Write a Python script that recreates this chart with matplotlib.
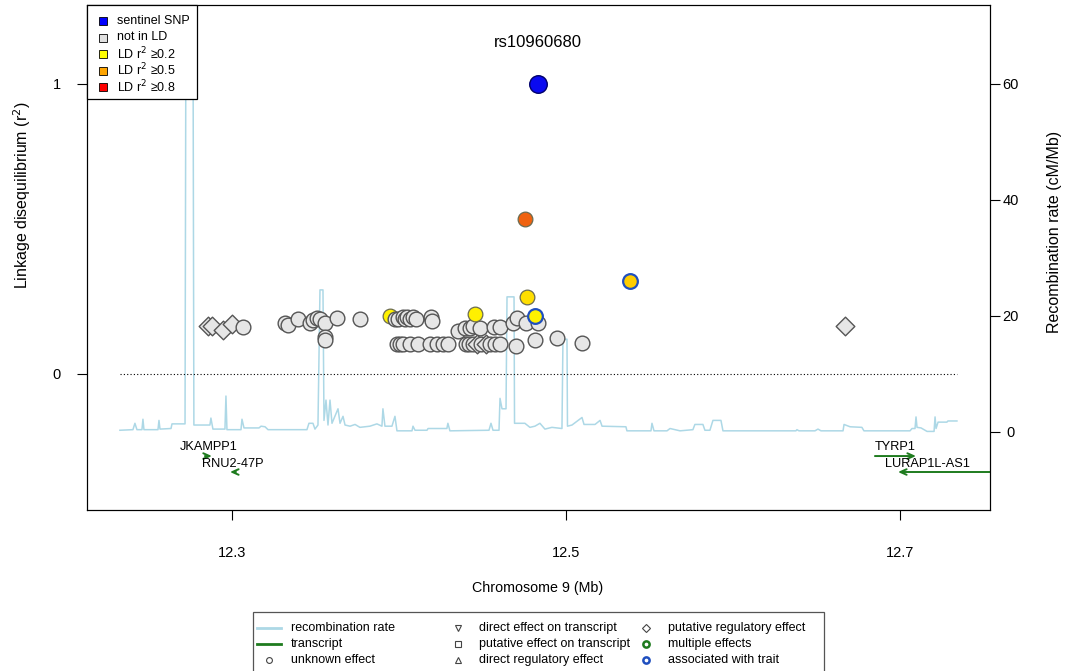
import matplotlib
matplotlib.use('Agg')
import matplotlib.pyplot as plt
from matplotlib.lines import Line2D
from matplotlib.patches import Rectangle
from matplotlib.colors import LinearSegmentedColormap

plt.rcParams['font.family'] = ['Liberation Sans', 'DejaVu Sans']

# ---------------- data ----------------
sentinel_id = 'rs10960680'
chrom = 9
region_start, region_end = 12.2329, 12.7341

sentinel_pos = 12.4832
sentinel_ld = 1.0

snp_pos = [
    12.2856, 12.2880, 12.2946, 12.3000, 12.3066,
    12.3317, 12.3335, 12.3395, 12.3467, 12.3485, 12.3509, 12.3527,
    12.3557, 12.3557, 12.3557, 12.3629, 12.3766,
    12.3946,
    12.3976, 12.3994, 12.4024, 12.4036, 12.4048, 12.4066, 12.4084, 12.4102,
    12.4192, 12.4198,
    12.3988, 12.4006, 12.4024, 12.4066, 12.4114, 12.4186, 12.4228, 12.4263,
    12.4293, 12.4401, 12.4419, 12.4443, 12.4467, 12.4491, 12.4521, 12.4545,
    12.4575, 12.4605, 12.4701, 12.4814, 12.4946, 12.5096,
    12.4353, 12.4395, 12.4425, 12.4443, 12.4485, 12.4569, 12.4605,
    12.4683, 12.4707, 12.4760, 12.4832,
    12.4455, 12.4766, 12.4814, 12.5383, 12.4754,
    12.6671,
]
snp_ld = [
    0.166, 0.166, 0.152, 0.172, 0.162,
    0.176, 0.170, 0.190, 0.176, 0.186, 0.193, 0.190,
    0.176, 0.128, 0.118, 0.193, 0.190,
    0.200,
    0.190, 0.188, 0.195, 0.190, 0.195, 0.190, 0.195, 0.190,
    0.195, 0.183,
    0.105, 0.105, 0.105, 0.105, 0.105, 0.105, 0.105, 0.105,
    0.105, 0.105, 0.105, 0.105, 0.105, 0.105, 0.105, 0.105,
    0.105, 0.105, 0.098, 0.117, 0.124, 0.107,
    0.148, 0.159, 0.160, 0.165, 0.159, 0.162, 0.162,
    0.176, 0.193, 0.176, 0.176,
    0.207, 0.266, 0.200, 0.321, 0.534,
    0.166,
]
snp_effect = (['regulatory'] * 4 + ['unknown'] * 36
              + ['regulatory', 'unknown', 'regulatory'] + ['unknown'] * 23
              + ['regulatory'])
snp_trait = [False] * len(snp_pos)
snp_trait[63] = True   # 12.4814, r2 0.200
snp_trait[64] = True   # 12.5383, r2 0.321

rec_pos = [
    12.2329, 12.2407, 12.2419, 12.2431, 12.2461, 12.2467, 12.2473, 12.2557,
    12.2563, 12.2569, 12.2635, 12.2641, 12.2719, 12.2725, 12.2766, 12.2772,
    12.2868, 12.2874, 12.2886, 12.2958, 12.2964, 12.2970, 12.3054, 12.3060,
    12.3072, 12.3162, 12.3174, 12.3198, 12.3216, 12.3449, 12.3461, 12.3485,
    12.3497, 12.3515, 12.3527, 12.3545, 12.3551, 12.3563, 12.3575, 12.3587,
    12.3599, 12.3635, 12.3647, 12.3665, 12.3677, 12.3707, 12.3737, 12.3766,
    12.3826, 12.3868, 12.3898, 12.3904, 12.3916, 12.3958, 12.3976, 12.3988,
    12.4078, 12.4084, 12.4096, 12.4168, 12.4174, 12.4186, 12.4287, 12.4293,
    12.4305, 12.4539, 12.4551, 12.4563, 12.4599, 12.4605, 12.4617, 12.4641,
    12.4647, 12.4689, 12.4692, 12.4754, 12.4784, 12.4814, 12.4844, 12.4874,
    12.4916, 12.4976, 12.4982, 12.5006, 12.5009, 12.5036, 12.5096, 12.5108,
    12.5174, 12.5204, 12.5216, 12.5359, 12.5365, 12.5509, 12.5515, 12.5527,
    12.5605, 12.5623, 12.5683, 12.5760, 12.5772, 12.5820, 12.5832, 12.5862,
    12.5880, 12.5928, 12.5940, 12.6377, 12.6383, 12.6395, 12.6491, 12.6509,
    12.6527, 12.6659, 12.6665, 12.6701, 12.6772, 12.6784, 12.7060, 12.7072,
    12.7090, 12.7096, 12.7102, 12.7126, 12.7162, 12.7204, 12.7210, 12.7216,
    12.7228, 12.7281, 12.7287, 12.7341,
]
rec_rate = [
    0.3, 0.4, 1.5, 0.4, 0.4, 2.2, 0.4, 0.4,
    2.0, 0.5, 0.6, 1.4, 1.4, 80.0, 80.0, 1.2,
    1.2, 2.4, 0.5, 0.5, 6.2, 0.4, 0.4, 2.2,
    0.7, 0.7, 1.0, 0.9, 0.4, 0.4, 1.5, 1.5,
    0.5, 1.2, 24.5, 24.5, 2.0, 5.5, 1.2, 5.5,
    1.5, 4.0, 1.5, 2.7, 1.2, 1.0, 1.3, 0.8,
    1.0, 1.4, 1.0, 4.0, 1.0, 1.0, 2.7, 0.2,
    0.2, 1.0, 0.3, 0.3, 0.6, 0.6, 0.6, 1.5,
    0.2, 0.3, 1.5, 0.3, 0.3, 5.8, 4.0, 4.0,
    23.3, 23.3, 1.5, 1.5, 0.8, 1.0, 1.5, 0.5,
    0.8, 0.6, 16.0, 16.0, 1.0, 1.2, 2.5, 1.3,
    1.3, 2.0, 1.0, 0.9, 0.2, 0.2, 1.5, 0.2,
    0.2, 0.6, 0.2, 0.4, 1.3, 1.3, 0.3, 0.3,
    2.0, 2.0, 0.2, 0.2, 0.4, 0.2, 0.2, 0.5,
    0.2, 0.2, 1.3, 0.9, 0.8, 0.2, 0.2, 0.6,
    0.6, 2.6, 0.8, 0.7, 0.1, 0.1, 2.6, 0.6,
    1.7, 1.7, 1.9, 1.9,
]

gene_names = ['JKAMPP1', 'RNU2-47P', 'TYRP1', 'LURAP1L-AS1']
gene_start = [12.2838, 12.2988, 12.6850, 12.6988]
gene_end = [12.2880, 12.3024, 12.7096, 12.7800]
gene_strand = [1, -1, 1, -1]
gene_row = [0, 1, 0, 1]

ld_legend_labels = ['sentinel SNP', 'not in LD', 'LD r$^2$ ≥0.2', 'LD r$^2$ ≥0.5',
                    'LD r$^2$ ≥0.8']
key_labels = ['recombination rate', 'transcript', 'unknown effect',
              'direct effect on transcript', 'putative effect on transcript',
              'direct regulatory effect', 'putative regulatory effect',
              'multiple effects', 'associated with trait']

# ---------------- style ----------------
GRAY_FILL = '#E6E6E6'
GRAY_EDGE = '#555555'
GREEN = '#1E7B1E'
RECOMB = '#ADD8E6'
TRAIT_BLUE = '#1F4FBF'
ld_cmap = LinearSegmentedColormap.from_list(
    'ld', [(0.0, '#FFF200'), (0.1875, '#FFC400'), (0.42, '#F0600F'), (1.0, '#FF0000')])
ld_legend_colors = ['#0000FF', '#E0E0E0', '#FFFF00', '#FFA500', '#FF0000']

XLIM = (12.2132, 12.7539)
LD_LIM = (-0.469, 1.272)
REC_LIM = (-13.45, 73.62)

W, H = 1066, 671
def fx(px):
    return px / W
def fy(py):
    return 1 - py / H

fig = plt.figure(figsize=(10.66, 6.71), dpi=100)
ax = fig.add_axes([fx(87), fy(510), 903 / W, 505 / H])
ax2 = ax.twinx()
ax.set_zorder(ax2.get_zorder() + 1)
ax.patch.set_visible(False)

# recombination rate
ax2.plot(rec_pos, rec_rate, color=RECOMB, lw=1.1, zorder=1)
ax2.set_ylim(*REC_LIM)
ax2.set_yticks([0, 20, 40, 60])
ax2.tick_params(axis='y', length=7, width=0.8, pad=8, labelsize=10.5)
for lab in ax2.get_yticklabels():
    lab.set_ha('center')

# LD zero line
ax.plot([region_start, region_end], [0, 0], color='black', lw=0.8,
        ls=(0, (1, 2)), zorder=1)

# SNPs
for p, ld, eff, tr in zip(snp_pos, snp_ld, snp_effect, snp_trait):
    marker = 'D' if eff == 'regulatory' else 'o'
    size = 90 if marker == 'D' else 112
    if ld >= 0.2:
        fc = ld_cmap((ld - 0.2) / 0.8)
        ec = TRAIT_BLUE if tr else '#6B6B50'
        lw = 1.6 if tr else 0.9
    else:
        fc = GRAY_FILL
        ec = TRAIT_BLUE if tr else GRAY_EDGE
        lw = 1.6 if tr else 1.0
    ax.scatter([p], [ld], s=size, marker=marker, facecolor=fc, edgecolor=ec,
               linewidth=lw, zorder=3)

ax.scatter([sentinel_pos], [sentinel_ld], s=160, marker='o', facecolor='#0A0AF0',
           edgecolor='#00006A', linewidth=1.0, zorder=4)
ax.text(sentinel_pos, 1.141, sentinel_id, ha='center', va='center', fontsize=12)

# genes
row_y = {0: -0.283, 1: -0.338}
label_y = {0: -0.252, 1: -0.310}
for name, s, e, strand, row in zip(gene_names, gene_start, gene_end, gene_strand, gene_row):
    y = row_y[row]
    tail, head = (s, e) if strand > 0 else (e, s)
    ann = ax.annotate('', xy=(head, y), xytext=(tail, y),
                      arrowprops=dict(arrowstyle='->,head_length=0.45,head_width=0.2',
                                      color=GREEN, lw=1.4, shrinkA=0, shrinkB=0),
                      annotation_clip=False, zorder=2)
    ann.arrow_patch.set_clip_box(ax.bbox)
    ann.arrow_patch.set_clip_on(True)
    vis_s, vis_e = max(s, region_start), min(e, region_end)
    ax.text((vis_s + vis_e) / 2, label_y[row], name, ha='center', va='center',
            fontsize=9.2)

ax.set_xlim(*XLIM)
ax.set_ylim(*LD_LIM)
ax.set_xticks([12.3, 12.5, 12.7])
ax.set_xticklabels(['12.3', '12.5', '12.7'])
ax.set_yticks([0, 1])
ax.set_yticklabels(['0', '1'])
ax.tick_params(axis='x', length=7, width=0.8, pad=19, labelsize=10.5)
ax.tick_params(axis='y', length=7, width=0.8, pad=15, labelsize=10.5)
for lab in ax.get_yticklabels():
    lab.set_ha('center')
for sp in list(ax.spines.values()) + list(ax2.spines.values()):
    sp.set_linewidth(0.8)

fig.text(fx(22), fy(195), 'Linkage disequilibrium (r$^2$)', rotation=90,
         ha='center', va='center', fontsize=11.5)
fig.text(fx(1055), fy(232), 'Recombination rate (cM/Mb)', rotation=90,
         ha='center', va='center', fontsize=11.5)
fig.text(fx(538), fy(588), f'Chromosome {chrom} (Mb)', ha='center',
         va='center', fontsize=10.3)

# ---- top-left LD key (drawn in figure coordinates) ----
fig.add_artist(Rectangle((fx(87), fy(99)), 110 / W, 94 / H, transform=fig.transFigure,
                         facecolor='white', edgecolor='black', lw=0.9, zorder=10))
for i, (lab, col) in enumerate(zip(ld_legend_labels, ld_legend_colors)):
    yy = 21 + i * 16.5
    fig.add_artist(Line2D([fx(103)], [fy(yy)], transform=fig.transFigure, ls='none',
                          marker='s', ms=6, mfc=col, mec='black', mew=0.6, zorder=11))
    fig.text(fx(117), fy(yy), lab, ha='left', va='center', fontsize=9, zorder=12)

# ---- bottom key ----
fig.add_artist(Rectangle((fx(253), fy(700)), 571 / W, 88 / H, transform=fig.transFigure,
                         facecolor='white', edgecolor='#555555', lw=0.9, zorder=10))
key_handles = [
    dict(kind='line', color=RECOMB),
    dict(kind='line', color=GREEN),
    dict(kind='marker', marker='o', ms=4.2, mec='#444444', mew=0.8),
    dict(kind='marker', marker='v', ms=5, mec='#444444', mew=0.8),
    dict(kind='marker', marker='s', ms=4, mec='#444444', mew=0.8),
    dict(kind='marker', marker='^', ms=5, mec='#444444', mew=0.8),
    dict(kind='marker', marker='D', ms=4, mec='#444444', mew=0.8),
    dict(kind='marker', marker='o', ms=4.5, mec=GREEN, mew=1.8),
    dict(kind='marker', marker='o', ms=4.5, mec=TRAIT_BLUE, mew=1.8),
]
for k, (lab, hd) in enumerate(zip(key_labels, key_handles)):
    col, row = divmod(k, 3)
    tx = 291 + col * 188.5
    yy = 628 + row * 16
    hx = tx - 22
    if hd['kind'] == 'line':
        fig.add_artist(Line2D([fx(hx - 12), fx(hx + 12)], [fy(yy), fy(yy)],
                              transform=fig.transFigure, color=hd['color'], lw=2,
                              zorder=11))
    else:
        fig.add_artist(Line2D([fx(hx)], [fy(yy)], transform=fig.transFigure, ls='none',
                              marker=hd['marker'], ms=hd['ms'], mfc='white',
                              mec=hd['mec'], mew=hd['mew'], zorder=11))
    fig.text(fx(tx), fy(yy), lab, ha='left', va='center', fontsize=9, zorder=12)

fig.savefig('out.png', dpi=100)
